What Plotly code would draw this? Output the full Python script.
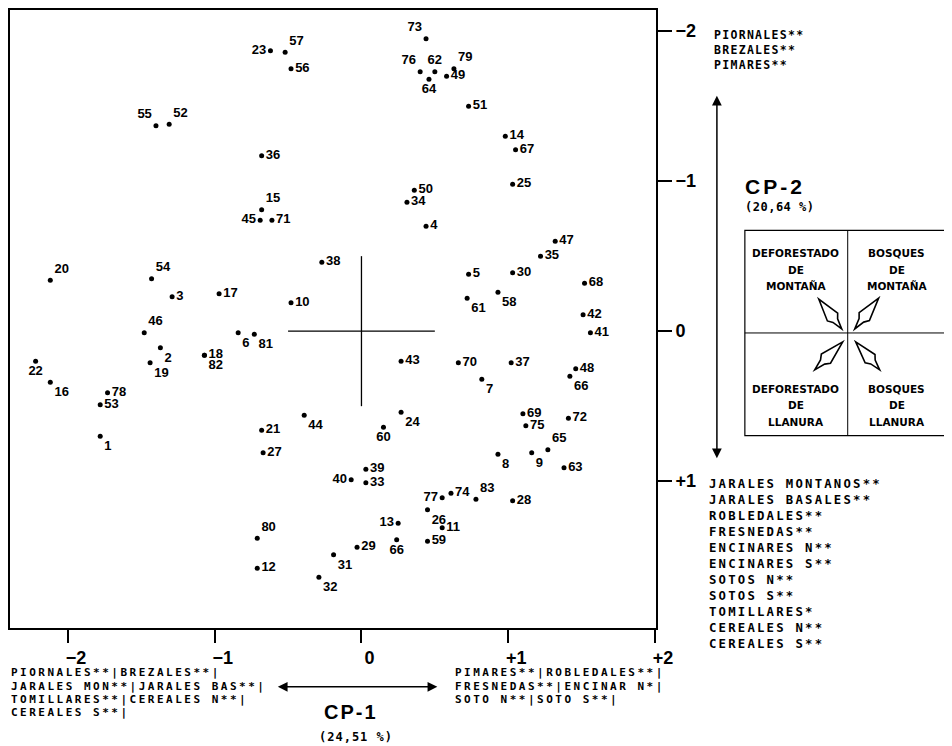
import plotly.graph_objects as go

# ---------------- data ----------------
ids = ["23", "57", "56", "55", "52", "36", "15", "45", "71", "20", "54", "3", "17", "10", "38",
       "46", "6", "81", "2", "19", "18", "82", "22", "16", "78", "53", "1", "21", "44", "27",
       "80", "12", "32", "73", "76", "62", "79", "49", "64", "51", "14", "67", "25", "50", "34",
       "4", "47", "35", "5", "30", "68", "61", "58", "42", "41", "43", "70", "37", "7", "48",
       "66", "24", "60", "69", "72", "75", "65", "8", "9", "63", "39", "40", "33", "77", "74",
       "83", "28", "26", "11", "13", "29", "66", "59", "31"]

cp1 = [-0.62, -0.52, -0.48, -1.40, -1.31, -0.68, -0.68, -0.69, -0.61, -2.12, -1.43, -1.29, -0.97, -0.48, -0.27,
       -1.48, -0.84, -0.73, -1.37, -1.44, -1.07, -1.07, -2.22, -2.12, -1.73, -1.78, -1.78, -0.68, -0.39, -0.67,
       -0.71, -0.71, -0.29, 0.44, 0.40, 0.50, 0.63, 0.58, 0.46, 0.73, 0.98, 1.05, 1.03, 0.36, 0.31,
       0.44, 1.32, 1.22, 0.73, 1.03, 1.52, 0.72, 0.93, 1.51, 1.56, 0.27, 0.66, 1.02, 0.82, 1.46,
       1.42, 0.27, 0.15, 1.10, 1.41, 1.12, 1.27, 0.93, 1.16, 1.38, 0.03, -0.07, 0.03, 0.55, 0.61,
       0.78, 1.03, 0.45, 0.55, 0.25, -0.03, 0.24, 0.45, -0.19]

cp2 = [-1.87, -1.86, -1.75, -1.37, -1.38, -1.17, -0.81, -0.74, -0.74, -0.34, -0.35, -0.23, -0.25, -0.19, -0.46,
       0.01, 0.01, 0.02, 0.11, 0.21, 0.16, 0.16, 0.20, 0.34, 0.41, 0.49, 0.70, 0.66, 0.56, 0.81,
       1.38, 1.58, 1.64, -1.95, -1.73, -1.73, -1.75, -1.70, -1.68, -1.50, -1.30, -1.21, -0.98, -0.94, -0.86,
       -0.70, -0.60, -0.50, -0.38, -0.39, -0.32, -0.22, -0.26, -0.11, 0.01, 0.20, 0.21, 0.21, 0.32, 0.25,
       0.30, 0.54, 0.64, 0.55, 0.58, 0.63, 0.79, 0.82, 0.81, 0.91, 0.92, 0.99, 1.01, 1.11, 1.08,
       1.12, 1.13, 1.19, 1.31, 1.28, 1.44, 1.39, 1.40, 1.49]

tick_vals = [-2, -1, 0, 1, 2]
x_tick_text = ["\u22122", "\u22121", "0", "+1", "+2"]
y_tick_text = ["\u22122", "\u22121", "0", "+1", ""]

top_labels = ["PIORNALES**", "BREZALES**", "PIMARES**"]
bottom_right_labels = ["JARALES MONTANOS**", "JARALES BASALES**", "ROBLEDALES**", "FRESNEDAS**",
                       "ENCINARES N**", "ENCINARES S**", "SOTOS N**", "SOTOS S**", "TOMILLARES*",
                       "CEREALES N**", "CEREALES S**"]
cp1_neg_labels = ["PIORNALES**|BREZALES**|", "JARALES MON**|JARALES BAS**|",
                  "TOMILLARES**|CEREALES N**|", "CEREALES S**|"]
cp1_pos_labels = ["PIMARES**|ROBLEDALES**|", "FRESNEDAS**|ENCINAR N*|", "SOTO N**|SOTO S**|"]
quad_labels = {
    "tl": ["DEFORESTADO", "DE", "MONTAÑA"],
    "tr": ["BOSQUES", "DE", "MONTAÑA"],
    "bl": ["DEFORESTADO", "DE", "LLANURA"],
    "br": ["BOSQUES", "DE", "LLANURA"],
}

# --------------- styling (label placement) ---------------
label_pos = ["middle left", "top right", "middle right", "top left", "top right", "middle right", "top right",
             "middle left", "middle right", "top right", "top right", "middle right", "middle right",
             "middle right", "middle right", "top right", "bottom right", "bottom right", "bottom right",
             "bottom right", "middle right", "bottom right", "bottom center", "bottom right", "middle right",
             "middle right", "bottom right", "middle right", "bottom right", "middle right", "top right",
             "middle right", "bottom right", "top left", "top left", "top center", "top right",
             "middle right", "bottom center", "middle right", "middle right", "middle right", "middle right",
             "middle right", "middle right", "middle right", "middle right", "middle right", "middle right",
             "middle right", "middle right", "bottom right", "bottom right", "middle right", "middle right",
             "middle right", "middle right", "middle right", "bottom right", "middle right", "bottom right",
             "bottom right", "bottom center", "middle right", "middle right", "middle right", "top right",
             "bottom right", "bottom right", "middle right", "middle right", "middle left", "middle right",
             "middle left", "middle right", "top right", "middle right", "bottom right", "middle right",
             "middle left", "middle right", "bottom center", "middle right", "bottom right"]

# page coordinates (the page body has an 8px margin, so the figure is offset by 8px)
OFF = 8
PAGE_W, PAGE_H = 952, 746
W, H = PAGE_W - OFF, PAGE_H - OFF
L_PX, R_PX, T_PX, B_PX = 9, 656, 8, 628       # plot area, page pixels
X0_PX, X_UNIT = 361.0, 147.0                   # x=0 position / px per unit
Y0_PX, Y_UNIT = 330.2, 150.5                   # y=0 position / px per unit (y grows downwards)


def px(x):
    return (x - L_PX) / (R_PX - L_PX)


def py(y):
    return (B_PX - y) / (B_PX - T_PX)


MONO = "DejaVu Sans Mono"
SANS = "Liberation Sans"

fig = go.Figure()
fig.add_trace(go.Scatter(
    x=cp1, y=cp2, mode="markers+text", text=ids, textposition=label_pos,
    marker=dict(color="black", size=5),
    textfont=dict(family=SANS, size=13, color="black", weight="bold"),
    cliponaxis=False, hoverinfo="skip", showlegend=False,
))

shapes = [
    dict(type="line", xref="x", yref="y", x0=-0.5, x1=0.5, y0=0, y1=0, line=dict(color="black", width=1.3)),
    dict(type="line", xref="x", yref="y", x0=0, x1=0, y0=-0.5, y1=0.5, line=dict(color="black", width=1.3)),
]

# legend box for quadrants
BX0, BX1, BY0, BY1, BXM, BYM = 745, 949, 229, 435, 848, 332
shapes.append(dict(type="rect", xref="paper", yref="paper", x0=px(BX0), x1=px(BX1), y0=py(BY1), y1=py(BY0),
                   line=dict(color="black", width=1.2)))
shapes.append(dict(type="line", xref="paper", yref="paper", x0=px(BXM), x1=px(BXM), y0=py(BY1), y1=py(BY0),
                   line=dict(color="black", width=1)))
shapes.append(dict(type="line", xref="paper", yref="paper", x0=px(BX0), x1=px(BX1), y0=py(BYM), y1=py(BYM),
                   line=dict(color="black", width=1)))


def kite(x1, y1, x2, y2, w=6.5):
    dx, dy = x2 - x1, y2 - y1
    ln = (dx * dx + dy * dy) ** 0.5
    ux, uy = dx / ln, dy / ln
    nx, ny = -uy, ux
    pts = [
        (x1, y1),
        (x1 + 0.6 * dx + w * nx, y1 + 0.6 * dy + w * ny),
        (x1 + 0.72 * dx + 0.45 * w * nx, y1 + 0.72 * dy + 0.45 * w * ny),
        (x2, y2),
        (x1 + 0.72 * dx - 0.45 * w * nx, y1 + 0.72 * dy - 0.45 * w * ny),
        (x1 + 0.6 * dx - w * nx, y1 + 0.6 * dy - w * ny),
    ]
    path = "M " + " L ".join(f"{px(a):.5f},{py(b):.5f}" for a, b in pts) + " Z"
    return dict(type="path", xref="paper", yref="paper", path=path, line=dict(color="black", width=1.6))


shapes += [kite(819, 298, 842, 328), kite(879, 297, 855, 328), kite(843, 341, 815, 369), kite(856, 341, 880, 369)]

annotations = []


def add_text(x, y, text, size, family=MONO, xanchor="left", yanchor="middle", ls=0.0):
    if ls:
        text = f'<span style="letter-spacing:{ls}px">{text}</span>'
    annotations.append(dict(x=px(x), y=py(y), xref="paper", yref="paper", text=text, showarrow=False,
                            xanchor=xanchor, yanchor=yanchor, align="left" if xanchor == "left" else "center",
                            font=dict(family=family, size=size, color="black", weight="bold")))


def add_rows(x, y_first, step, lines, size, ls):
    for i, t in enumerate(lines):
        add_text(x, y_first + i * step, t, size, ls=ls)


# top-right legend
add_rows(712, 33, 15, top_labels, 11.5, 1.3)
# bottom-right legend
add_rows(707, 484, 16, bottom_right_labels, 12.3, 2.2)
# texts under the x axis
add_rows(OFF, 673, 13.2, cp1_neg_labels, 11, 2.5)
add_rows(453, 673, 13.2, cp1_pos_labels, 11, 2.5)
# axis titles
add_text(743, 185, "CP-2", 21, family=SANS, ls=3)
add_text(743, 206, "(20,64 %)", 12, ls=0.5)
add_text(351, 712, "CP-1", 20, family=SANS, xanchor="center", ls=2)
add_text(356, 737, "(24,51 %)", 12, xanchor="center", ls=1)

# quadrant labels
qx = {"tl": 796, "tr": 897, "bl": 796, "br": 897}
qy = {"tl": 252, "tr": 252, "bl": 388, "br": 388}
for k, lines in quad_labels.items():
    for i, t in enumerate(lines):
        add_text(qx[k], qy[k] + i * 16.5, t, 10.5, family="DejaVu Sans", xanchor="center")

# double-headed arrows
annotations.append(dict(xref="paper", yref="paper", x=px(437), y=py(687), ax=276 - 437, ay=0,
                        axref="pixel", ayref="pixel", text="", showarrow=True, arrowhead=2, arrowside="end+start",
                        arrowsize=1.3, arrowwidth=1.5, arrowcolor="black"))
annotations.append(dict(xref="paper", yref="paper", x=px(717), y=py(94), ax=0, ay=458 - 94,
                        axref="pixel", ayref="pixel", text="", showarrow=True, arrowhead=2, arrowside="end+start",
                        arrowsize=1.3, arrowwidth=1.5, arrowcolor="black"))

x_range = [(L_PX - X0_PX) / X_UNIT, (R_PX - X0_PX) / X_UNIT]
y_range = [(B_PX - Y0_PX) / Y_UNIT, (T_PX - Y0_PX) / Y_UNIT]

fig.update_layout(
    width=W, height=H,
    margin=dict(l=L_PX - OFF, r=PAGE_W - R_PX, t=T_PX - OFF, b=PAGE_H - B_PX, pad=0),
    paper_bgcolor="white", plot_bgcolor="white",
    showlegend=False,
    shapes=shapes, annotations=annotations,
    xaxis=dict(range=x_range, tickvals=tick_vals, ticktext=x_tick_text, ticks="outside", ticklen=13,
               tickwidth=1.5, tickcolor="black", showline=True, linecolor="black", linewidth=1.6, mirror=True,
               showgrid=False, zeroline=False, ticklabelshift=8,
               tickfont=dict(family=SANS, size=18, color="black", weight="bold")),
    yaxis=dict(range=y_range, side="right", tickvals=tick_vals, ticktext=y_tick_text, ticks="outside",
               ticklen=14, tickwidth=1.5, tickcolor="black", showline=True, linecolor="black", linewidth=1.6,
               mirror=True, showgrid=False, zeroline=False,
               tickfont=dict(family=SANS, size=18, color="black", weight="bold")),
)

fig.write_html("out.html")
